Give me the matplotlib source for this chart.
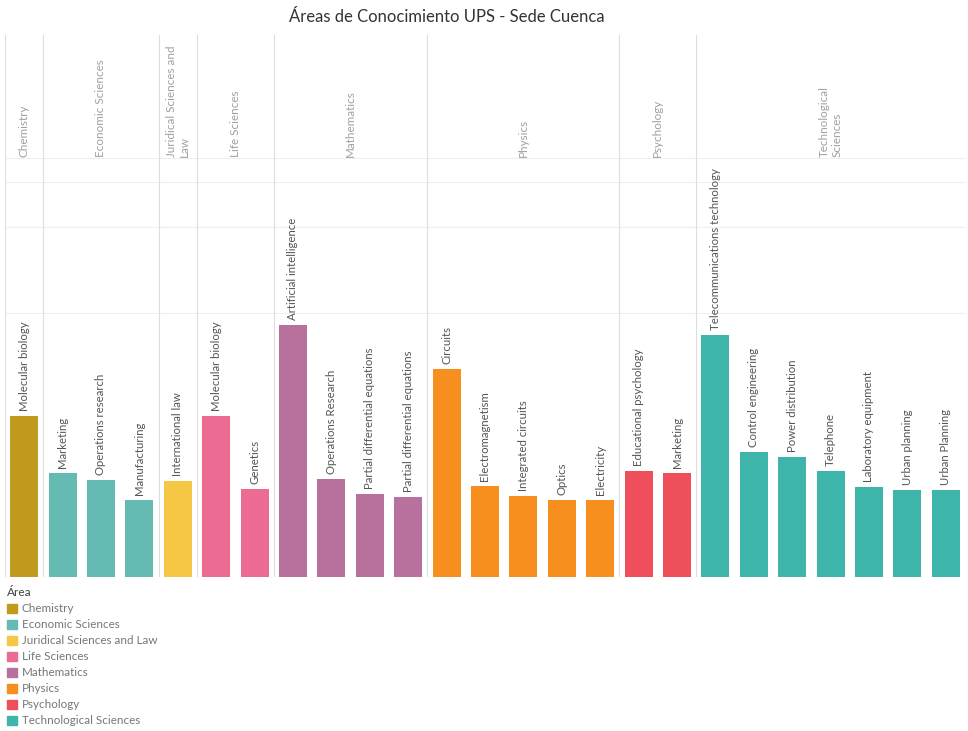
"""Bar chart of knowledge areas, UPS Cuenca."""

import matplotlib.pyplot as plt
from matplotlib import patches
import numpy as np

plt.rcParams['font.family'] = ['Lato', 'DejaVu Sans']

areas = ['Chemistry', 'Economic Sciences', 'Juridical Sciences and Law',
         'Life Sciences', 'Mathematics', 'Physics', 'Psychology',
         'Technological Sciences']
area_colors = ['#c29b1e', '#65bab4', '#f6c745', '#ec6b93',
               '#b8709c', '#f68f1e', '#ef4f5b', '#3db5ab']

topics = ['Molecular biology', 'Marketing', 'Operations research', 'Manufacturing',
          'International law', 'Molecular biology', 'Genetics',
          'Artificial intelligence', 'Operations Research',
          'Partial differential equations', 'Partial differential equations',
          'Circuits', 'Electromagnetism', 'Integrated circuits', 'Optics', 'Electricity',
          'Educational psychology', 'Marketing',
          'Telecommunications technology', 'Control engineering', 'Power distribution',
          'Telephone', 'Laboratory equipment', 'Urban planning', 'Urban Planning']
topic_area = (['Chemistry'] + ['Economic Sciences'] * 3
              + ['Juridical Sciences and Law'] + ['Life Sciences'] * 2
              + ['Mathematics'] * 4 + ['Physics'] * 5 + ['Psychology'] * 2
              + ['Technological Sciences'] * 7)
values = [161, 104, 97, 77, 96, 161, 88, 252, 98, 83, 80, 208, 91, 81, 77, 77,
          106, 104, 242, 125, 120, 106, 90, 87, 87]

header_text = {'Juridical Sciences and Law': 'Juridical Sciences and\nLaw',
               'Technological Sciences': 'Technological\nSciences'}
grid_levels = [264, 350, 395, 419]

fig = plt.figure(figsize=(9.68, 7.31), dpi=100)
ax = fig.add_axes([5/968, 154/731, 960/968, 542/731])

x = np.arange(len(values))
colors = [area_colors[areas.index(a)] for a in topic_area]
ax.bar(x, values, width=0.73, color=colors, zorder=3)

for xi, v, t in zip(x, values, topics):
    ax.text(xi, v + 5, t, rotation=90, ha='center', va='bottom',
            fontsize=8.2, color='#555555', zorder=4)

for g in grid_levels:
    ax.axhline(g, color='#eeeeee', lw=0.8, zorder=1)

# group separators and headers
for a in areas:
    idx = [i for i, ta in enumerate(topic_area) if ta == a]
    ax.axvline(idx[0] - 0.5, color='#dddddd', lw=0.8, zorder=1)
    ax.text(np.mean(idx), 420, header_text.get(a, a), rotation=90,
            ha='center', va='bottom', multialignment='left',
            fontsize=8.4, color='#a0a0a0')

ax.set_xlim(-0.5, len(values) - 0.5)
ax.set_ylim(0, 542)
ax.axis('off')

fig.text(447/968, 1 - 17/731, 'Áreas de Conocimiento UPS - Sede Cuenca',
         ha='center', va='center', fontsize=12, color='#333333')

handles = [patches.Patch(color=c) for c in area_colors]
leg = fig.legend(handles, areas, loc='upper left', bbox_to_anchor=(-0.002, 1 - 578/731),
                 title='Área', alignment='left', frameon=False, fontsize=8.4,
                 title_fontsize=8.6, handlelength=0.85, handleheight=0.85,
                 handletextpad=0.4, labelspacing=0.43, borderpad=0.3)
for txt in leg.get_texts():
    txt.set_color('#777777')
leg.get_title().set_color('#444444')

fig.savefig('out.png', dpi=100)
